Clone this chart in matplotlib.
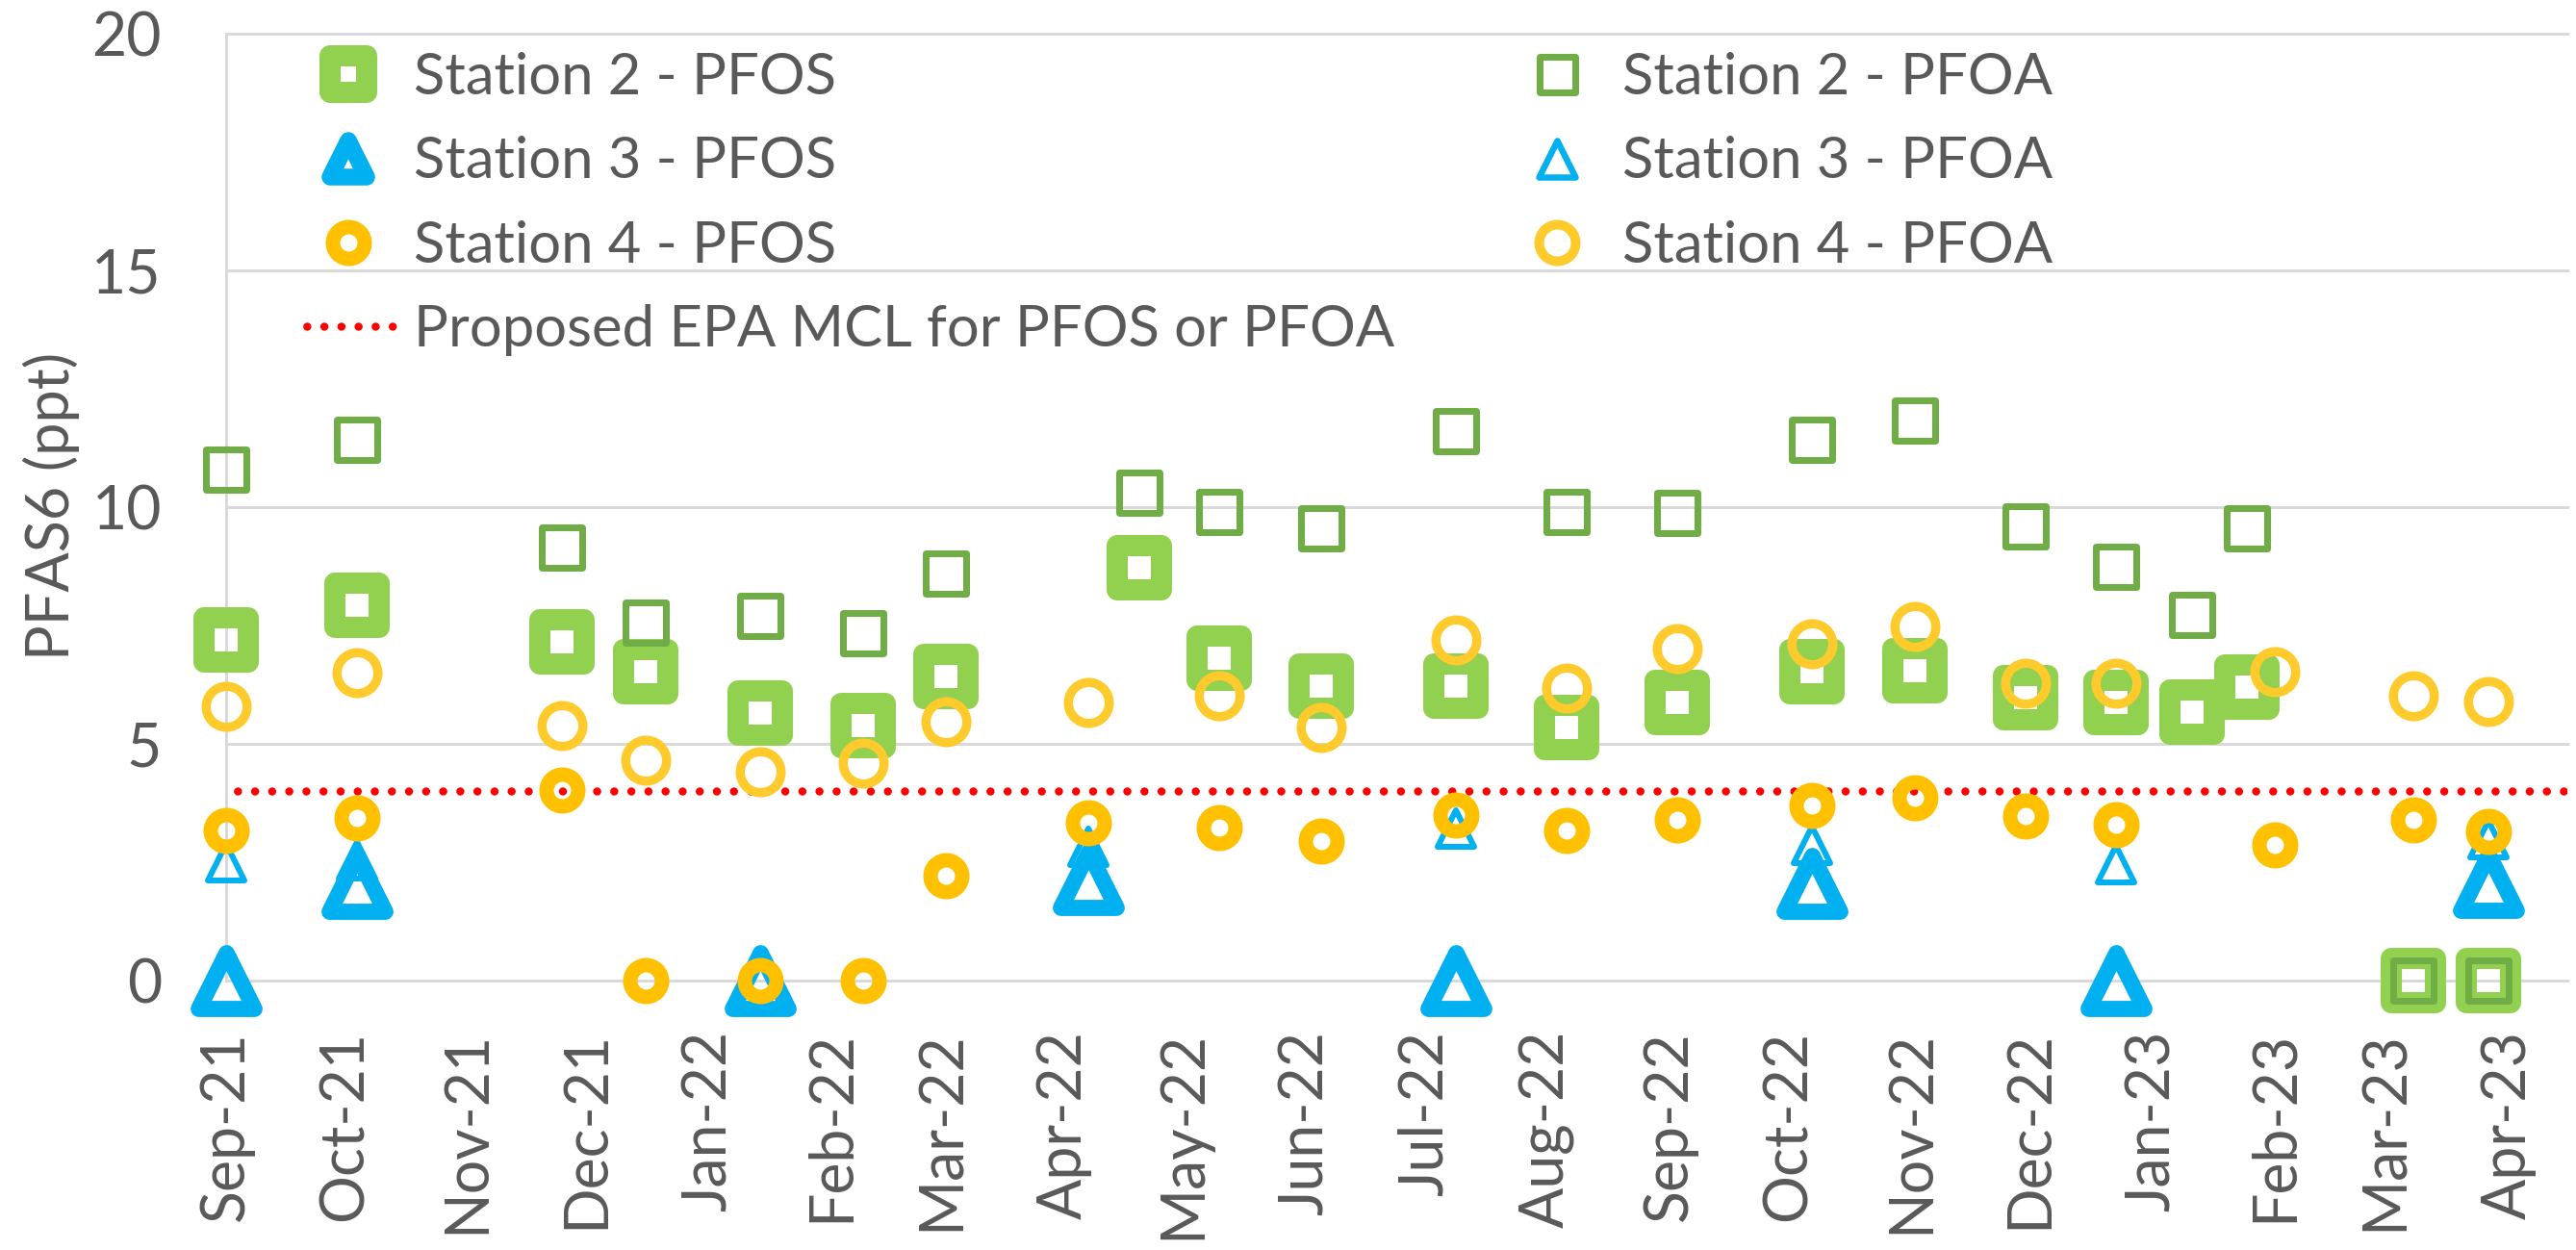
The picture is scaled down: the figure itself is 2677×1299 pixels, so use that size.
import matplotlib
matplotlib.use("Agg")
import matplotlib.pyplot as plt
import matplotlib.dates as mdates
from matplotlib.markers import MarkerStyle
from matplotlib.lines import Line2D
import pandas as pd

plt.rcParams['font.family'] = ['Lato', 'DejaVu Sans']

# ---------------- data ----------------
s2_dates = ["2021-09-01", "2021-10-04", "2021-11-25", "2021-12-16", "2022-01-14",
            "2022-02-09", "2022-03-02", "2022-04-20", "2022-05-10", "2022-06-05",
            "2022-07-09", "2022-08-06", "2022-09-03", "2022-10-07", "2022-11-02",
            "2022-11-30", "2022-12-23", "2023-01-11", "2023-01-25", "2023-03-08",
            "2023-03-27"]
s2_pfos = [7.2, 7.93, 7.16, 6.52, 5.66, 5.38, 6.42, 8.72, 6.81, 6.21, 6.21, 5.35,
           5.87, 6.52, 6.54, 5.98, 5.87, 5.67, 6.19, 0, 0]
s2_pfoa = [10.8, 11.43, 9.14, 7.57, 7.71, 7.34, 8.6, 10.31, 9.9, 9.56, 11.61, 9.9,
           9.87, 11.42, 11.82, 9.6, 8.75, 7.72, 9.55, 0, 0]

s3_pfos_dates = ["2021-09-01", "2021-10-04", "2022-01-14", "2022-04-07", "2022-07-09",
                 "2022-10-07", "2022-12-23", "2023-03-27"]
s3_pfos = [0, 2.05, 0, 2.13, 0, 2.05, 0, 2.08]
s3_pfoa_dates = ["2021-09-01", "2021-10-04", "2022-04-07", "2022-07-09", "2022-10-07",
                 "2022-12-23", "2023-03-27"]
s3_pfoa = [2.5, 2.55, 2.82, 3.21, 2.87, 2.46, 2.99]

s4_dates = ["2021-09-01", "2021-10-04", "2021-11-25", "2021-12-16", "2022-01-14",
            "2022-02-09", "2022-03-02", "2022-04-07", "2022-05-10", "2022-06-05",
            "2022-07-09", "2022-08-06", "2022-09-03", "2022-10-07", "2022-11-02",
            "2022-11-30", "2022-12-23", "2023-02-01", "2023-03-08", "2023-03-27"]
s4_pfos = [3.18, 3.43, 4.03, 0, 0, 0, 2.21, 3.33, 3.23, 2.94, 3.49, 3.17, 3.39,
           3.7, 3.87, 3.47, 3.3, 2.86, 3.39, 3.15]
s4_pfoa = [5.8, 6.5, 5.38, 4.65, 4.41, 4.6, 5.46, 5.87, 6.02, 5.35, 7.2, 6.18, 7.02,
           7.12, 7.48, 6.29, 6.29, 6.52, 6.02, 5.9]

mcl_value = 4
y_ticks = [0, 5, 10, 15, 20]
x_start, x_end = "2021-09-01", "2023-04-16"
month_ticks = pd.date_range("2021-09-01", "2023-04-01", freq="MS")

labels_left = ["Station 2 - PFOS", "Station 3 - PFOS", "Station 4 - PFOS",
               "Proposed EPA MCL for PFOS or PFOA"]
labels_right = ["Station 2 - PFOA", "Station 3 - PFOA", "Station 4 - PFOA"]

# ---------------- style ----------------
W, H = 2677, 1299
P = 0.72  # points per pixel at dpi 100
TXT = '#595959'
GRID = '#D9D9D9'
C_S2S, C_S2A = '#92D050', '#70AD47'
C_S3 = '#00B0F0'
C_S4S, C_S4A = '#FFC000', '#FFCA2C'
FS = 45
LFS = 43

fig = plt.figure(figsize=(W / 100, H / 100), dpi=100)
ax = fig.add_axes([235 / W, (H - 1019) / H, (2668 - 235) / W, (1019 - 35) / H])

def mk(m):
    return MarkerStyle(m, joinstyle='round')

def to_dt(lst):
    return pd.to_datetime(lst)

ax.axhline(mcl_value, color='red', lw=8.5 * P, linestyle=(0.7, (0.001, 2.09)),
           dash_capstyle='round', zorder=2)

series = [
    (to_dt(s2_dates), s2_pfos, 's', 47, 22, C_S2S),
    (to_dt(s2_dates), s2_pfoa, 's', 42, 7, C_S2A),
    (to_dt(s3_pfos_dates), s3_pfos, '^', 58, 16.8, C_S3),
    (to_dt(s3_pfoa_dates), s3_pfoa, '^', 38, 6, C_S3),
    (to_dt(s4_dates), s4_pfos, 'o', 33, 15, C_S4S),
    (to_dt(s4_dates), s4_pfoa, 'o', 42.5, 9.5, C_S4A),
]
for i, (x, y, m, ms, mew, c) in enumerate(series):
    ax.plot(x, y, linestyle='none', marker=mk(m), ms=ms * P, mew=mew * P,
            mec=c, mfc='none', clip_on=False, zorder=3 + i)

ax.set_ylim(0, 20)
ax.set_yticks(y_ticks)
ax.set_xlim(pd.Timestamp(x_start), pd.Timestamp(x_end))
ax.set_xticks(month_ticks)
ax.xaxis.set_major_formatter(mdates.DateFormatter('%b-%y'))

ax.grid(axis='y', color=GRID, lw=3 * P, zorder=0)
ax.set_axisbelow(True)
for gl in ax.get_ygridlines():
    gl.set_clip_on(False)
for s in ['top', 'right', 'bottom']:
    ax.spines[s].set_visible(False)
ax.spines['left'].set_color(GRID)
ax.spines['left'].set_linewidth(3 * P)

ax.tick_params(axis='y', length=0, pad=67 * P, labelsize=FS, labelcolor=TXT)
ax.tick_params(axis='x', length=0, pad=52 * P, labelsize=FS, labelcolor=TXT,
               labelrotation=90)
for lab in ax.get_xticklabels():
    lab.set_ha('center')
    lab.set_va('top')

fig.text(53 / W, 1 - 526 / H, "PFAS6 (ppt)", rotation=90, ha='center', va='center',
         fontsize=44, color=TXT)

# legends
def proxy(m, ms, mew, c):
    return Line2D([], [], linestyle='none', marker=mk(m), ms=ms * P, mew=mew * P,
                  mec=c, mfc='none')

h_left = [proxy('s', 38, 22, C_S2S), proxy('^', 38.5, 17.5, C_S3), proxy('o', 33, 15, C_S4S),
          Line2D([], [], color='red', lw=8.5 * P, linestyle=(0.7, (0.001, 2.09)),
                 dash_capstyle='round')]
h_right = [proxy('s', 37, 7, C_S2A), proxy('^', 38, 6.5, C_S3), proxy('o', 38, 10, C_S4A)]

common = dict(loc='upper left', bbox_transform=fig.transFigure, frameon=False,
              borderpad=0, borderaxespad=0, handlelength=110 / (LFS / P),
              handletextpad=0.22, labelspacing=0.56, fontsize=LFS, labelcolor=TXT,
              numpoints=1)
leg1 = ax.legend(h_left, labels_left, bbox_to_anchor=(307 / W, 1 - 54 / H), **common)
ax.add_artist(leg1)
leg2 = ax.legend(h_right, labels_right, bbox_to_anchor=(1563 / W, 1 - 54 / H), **common)

fig.savefig("out.png", dpi=100, facecolor='white')
